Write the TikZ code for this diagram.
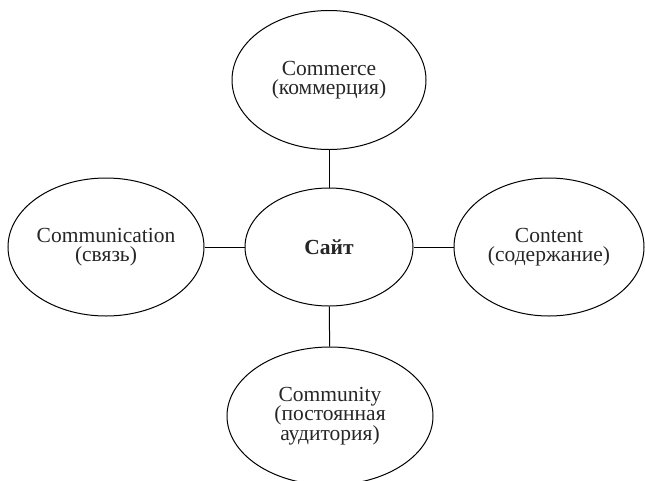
\documentclass[tikz,border=0pt]{standalone}
\usepackage{fontspec}
\setmainfont{Liberation Serif}
\usetikzlibrary{shapes.geometric}
\newcommand\bubblefont{\fontsize{21.5}{19.5}\selectfont\lineskiplimit=-10pt\relax}
\begin{document}
\begin{tikzpicture}[x=1pt,y=-1pt,
  bubble/.style={draw, line width=1pt, ellipse, inner sep=0pt, align=center,
    font=\bubblefont, text=black!85},
  link/.style={line width=1pt}]
\useasboundingbox (0,0) rectangle (645,480);
% hub
\node[bubble, minimum width=168, minimum height=118] (site) at (329,247) {\textbf{Сайт}};
% the four satellites
\node[bubble, minimum width=194, minimum height=139] (commerce) at (329,80) {Commerce\\(коммерция)};
\node[bubble, minimum width=196, minimum height=138] (communication) at (106,247) {Communication\\(связь)};
\node[bubble, minimum width=190, minimum height=138] (content) at (549,247) {Content\\(содержание)};
\node[bubble, minimum width=206, minimum height=138] (community) at (330,416) {Community\\(постоянная\\аудитория)};
% spokes
\draw[link] (commerce) -- (site);
\draw[link] (communication) -- (site);
\draw[link] (site) -- (content);
\draw[link] (site) -- (community);
\end{tikzpicture}
\end{document}
